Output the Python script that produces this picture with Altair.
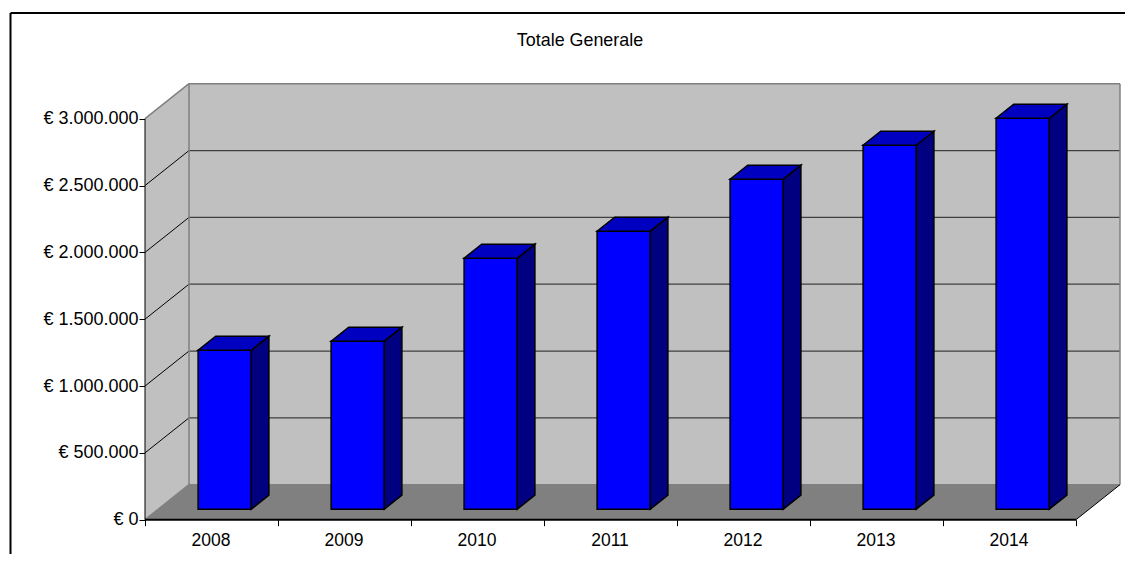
import altair as alt
import pandas as pd

YEARS = ["2008", "2009", "2010", "2011", "2012", "2013", "2014"]
VALUES = [1190000, 1257000, 1878000, 2080000, 2469000, 2723000, 2925000]
Y_TICKS = [0, 500000, 1000000, 1500000, 2000000, 2500000, 3000000]
TITLE = "Totale Generale"

FONT = "Liberation Sans"
FS = 18
WALL, FLOOR, EDGE = "#C0C0C0", "#808080", "#808080"
FRONT, TOP, SIDE = "#0000FF", "#0000C0", "#000080"

# layout (pixels in page) -> scale domains
W, H = 1117, 546
X0, CAT = 145.0, 133.0        # axis x, category step
Y0, VPX = 519.7, 401.0 / 3e6  # zero y, px per euro
DX = 44.0 / CAT               # depth shift, x units
DV = 35.0 / VPX               # depth shift, value units
XMAX = len(YEARS)
VMAX = Y_TICKS[-1]

x_scale = alt.Scale(domain=[(8 - X0) / CAT, (8 + W - X0) / CAT], range=[0, W], nice=False, zero=False)
y_scale = alt.Scale(domain=[(Y0 - (8 + H)) / VPX, (Y0 - 8) / VPX], range=[H, 0], nice=False, zero=False)

X = alt.X("x:Q", scale=x_scale, axis=None, title=None)
Y = alt.Y("y:Q", scale=y_scale, axis=None, title=None, stack=None)
Y2 = alt.Y2("y2:Q")


def px(u, z):
    return u + z * DX


def pv(v, z):
    return v + z * DV


def area(rows, fill, **kw):
    return alt.Chart(pd.DataFrame(rows)).mark_area(fill=fill, **kw).encode(x=X, y=Y, y2=Y2, detail="k:N")


def lines(rows, color, width):
    return alt.Chart(pd.DataFrame(rows)).mark_line(color=color, strokeWidth=width, interpolate="linear").encode(
        x=X, y=Y, detail="k:N", order="o:Q")


def seg(k, p, q):
    return [dict(k=k, o=0, x=p[0], y=p[1]), dict(k=k, o=1, x=q[0], y=q[1])]


# walls and floor
left_wall = area([dict(k="l", x=0, y=0, y2=VMAX), dict(k="l", x=DX, y=DV, y2=VMAX + DV)], WALL)
back_wall = area([dict(k="b", x=DX, y=DV, y2=VMAX + DV), dict(k="b", x=XMAX + DX, y=DV, y2=VMAX + DV)], WALL)
floor = area([
    dict(k="f", x=0, y=0, y2=0),
    dict(k="f", x=DX, y=0, y2=DV),
    dict(k="f", x=XMAX, y=0, y2=DV),
    dict(k="f", x=XMAX + DX, y=DV, y2=DV),
], FLOOR)

# gridlines
back_grid, left_grid = [], []
for t in Y_TICKS[1:-1]:
    back_grid += seg(f"g{t}", (DX, t + DV), (XMAX + DX, t + DV))
    left_grid += seg(f"d{t}", (0, t), (DX, t + DV))
back_grid_l = lines(back_grid, "#404040", 1.2)
left_grid_l = lines(left_grid, "#000000", 1)

# wall edges
edges = (seg("e1", (0, VMAX), (DX, VMAX + DV)) + seg("e2", (DX, VMAX + DV), (XMAX + DX, VMAX + DV))
         + seg("e3", (DX, DV), (DX, VMAX + DV)) + seg("e4", (XMAX + DX, DV), (XMAX + DX, VMAX + DV))
         + seg("e5", (DX, DV), (XMAX + DX, DV)) + seg("e6", (0, 0), (DX, DV)))
edges_l = lines(edges, EDGE, 1.5)

# axis lines
axis_rows = seg("a1", (0, 0), (0, VMAX)) + seg("a2", (XMAX, 0), (XMAX + DX, DV))
axis_l = lines(axis_rows, "#000000", 1)
floor_front = lines(seg("a3", (0, 0), (XMAX, 0)), "#000000", 2)

# bars
ZF, ZB = 0.3, 0.7
L, R = 0.3, 0.7
front_rows, side_rows, top_rows = [], [], []
for i, v in enumerate(VALUES):
    l, r = i + L, i + R
    front_rows.append(dict(x=px(l, ZF), x2=px(r, ZF), y=pv(0, ZF), y2=pv(v, ZF)))
    side_rows += [
        dict(k=i, x=px(r, ZF), y=pv(0, ZF), y2=pv(v, ZF)),
        dict(k=i, x=px(r, ZB), y=pv(0, ZB), y2=pv(v, ZB)),
    ]
    tf, tb = pv(v, ZF), pv(v, ZB)
    top_rows += [
        dict(k=i, x=px(l, ZF), y=tf, y2=tf),
        dict(k=i, x=px(l, ZB), y=tf, y2=tb),
        dict(k=i, x=px(r, ZF), y=tf, y2=tb),
        dict(k=i, x=px(r, ZB), y=tb, y2=tb),
    ]
front = alt.Chart(pd.DataFrame(front_rows)).mark_rect(fill=FRONT, stroke="#000000", strokeWidth=1.5).encode(
    x=X, x2=alt.X2("x2:Q"), y=Y, y2=Y2)
side = area(side_rows, SIDE, stroke="#000000", strokeWidth=1.5)
top = area(top_rows, TOP, stroke="#000000", strokeWidth=1.5)

# frame
frame_left = alt.Chart().mark_rule(color="#000000", strokeWidth=2).encode(
    x=alt.value(2.5), y=alt.value(5), y2=alt.value(H))
frame_top = alt.Chart().mark_rule(color="#000000", strokeWidth=2).encode(
    x=alt.value(2.5), x2=alt.value(W), y=alt.value(5))

# real axes, pulled inside the plot by negative offsets
yaxis = alt.Axis(values=Y_TICKS, orient="left", offset=-(X0 - 8), domain=False, grid=False, title=None,
                 tickSize=6, tickColor="#000000", labelPadding=1, labelFont=FONT, labelFontSize=FS,
                 labelColor="#000000", labelExpr="'€ ' + replace(format(datum.value, ',d'), /,/g, '.')")
tick_axis = alt.Axis(values=list(range(XMAX + 1)), orient="bottom", offset=-(8 + H - Y0), domain=False, grid=False,
                     title=None, tickSize=6, tickColor="#000000", labels=False)
years_js = "[" + ",".join(f"'{y}'" for y in YEARS) + "]"
label_axis = alt.Axis(values=[i + 0.5 for i in range(XMAX)], orient="bottom", offset=-(8 + H - Y0), domain=False,
                      grid=False, title=None, ticks=False, labelPadding=12, labelFont=FONT, labelFontSize=17.5,
                      labelOffset=-1, labelColor="#000000", labelExpr=f"{years_js}[floor(datum.value)]")
ax_df = pd.DataFrame({"x": [0.0, 1.0], "y": [0.0, 1.0]})
ax_t = alt.Chart(ax_df).mark_point(opacity=0).encode(
    x=alt.X("x:Q", scale=x_scale, axis=tick_axis),
    y=alt.Y("y:Q", scale=y_scale, axis=None))
ax_x = alt.Chart(ax_df).mark_point(opacity=0).encode(
    x=alt.X("x:Q", scale=x_scale, axis=label_axis),
    y=alt.Y("y:Q", scale=y_scale, axis=None))
ax_y = alt.Chart(ax_df).mark_point(opacity=0).encode(
    x=alt.X("x:Q", scale=x_scale, axis=None),
    y=alt.Y("y:Q", scale=y_scale, axis=yaxis))

chart = alt.layer(
    ax_t, ax_x, ax_y, left_wall, back_wall, floor, back_grid_l, left_grid_l, edges_l, axis_l, floor_front,
    front, side, top, frame_left, frame_top,
).resolve_axis(x="independent", y="independent").properties(
    width=W, height=H, padding=0, autosize=alt.AutoSizeParams(type="none"), background="#FFFFFF",
    title=alt.TitleParams(TITLE, font=FONT, fontSize=17.9, fontWeight="normal", color="#000000", anchor="middle",
                          baseline="middle", offset=0, dx=13.5, dy=51),
).configure_view(stroke=None)

chart.save("out.html", embed_options={"renderer": "svg", "actions": False})
